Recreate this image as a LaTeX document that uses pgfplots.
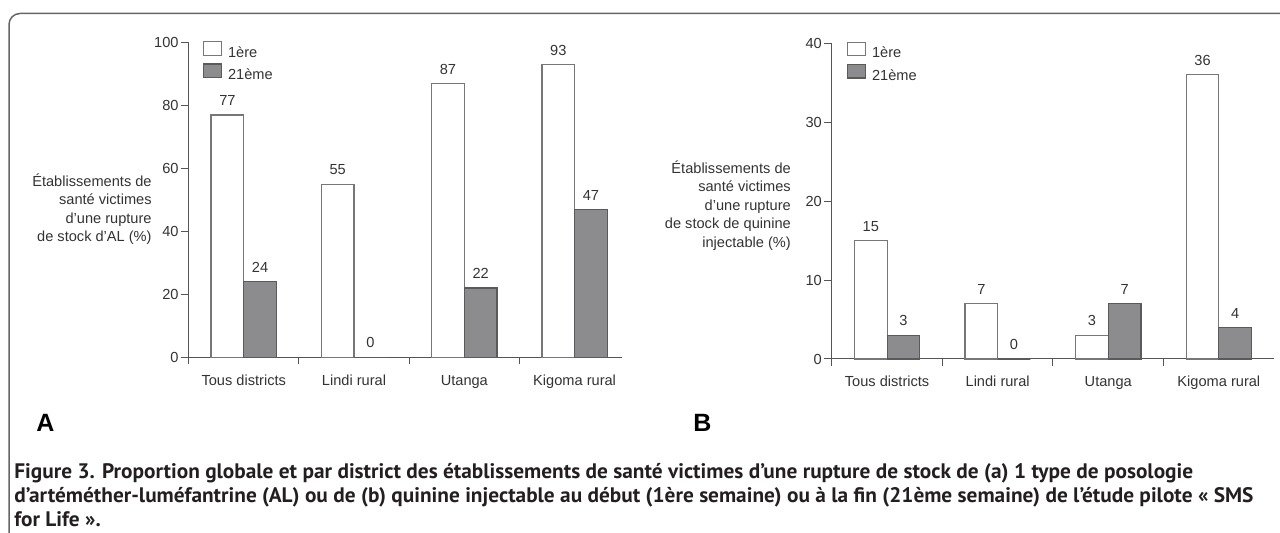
\documentclass[border=0pt]{standalone}
\usepackage{fontspec}
\setmainfont{Liberation Sans}
\newfontfamily\capfont{PT Sans}[FakeStretch=1.015]
\usepackage{pgfplots}
\pgfplotsset{compat=1.18}
\definecolor{barg}{HTML}{8C8C8E}
\definecolor{bare}{HTML}{5A5A5A}
\definecolor{barw}{HTML}{777777}
\definecolor{axc}{HTML}{555555}
\definecolor{txt}{HTML}{333333}
\definecolor{frm}{HTML}{666666}
\definecolor{cap}{HTML}{231F20}

\pgfplotsset{
  mybars/.style={
    scale only axis,
    anchor=south west,
    ybar=0pt,
    bar width=16.35pt,
    ymin=0,
    xmin=-0.5,
    axis x line=bottom,
    axis y line=left,
    axis line style={axc, line width=0.5pt, -},
    every tick/.style={axc, line width=0.5pt},
    xtick={0,1,2,3},
    xticklabels={Tous districts, Lindi rural, Utanga, Kigoma rural},
    x tick style={draw=none},
    extra x ticks={-0.5,0.5,1.5,2.5},
    extra x tick labels={},
    extra x tick style={major tick length=3.5pt, tick align=outside, x tick style={draw=axc}},
    ytick align=outside,
    major tick length=4pt,
    font=\fontsize{7.3}{9.25}\selectfont\color{txt},
    /pgf/number format/assume math mode=true,
    yticklabel style={inner sep=0.8pt, font=\fontsize{7.3}{9.25}\selectfont\color{txt}},
    xticklabel style={inner sep=0pt, text height=5.3pt, text depth=1.5pt, yshift=-6.5pt, font=\fontsize{7.3}{9.25}\selectfont\color{txt}},
    nodes near coords,
    every node near coord/.append style={font=\fontsize{7.3}{9.25}\selectfont\color{txt}, yshift=1pt},
    every axis y label/.style={anchor=east, align=right, inner sep=0pt, font=\fontsize{7.3}{9.25}\selectfont\color{txt}},
    legend cell align=left,
    legend style={anchor=north west, draw=none, fill=none, inner sep=0pt, outer sep=0pt, row sep=0pt, column sep=1.5pt,
      nodes={inner sep=1.5pt, text height=5.5pt, text depth=1.5pt, font=\fontsize{7.3}{9.25}\selectfont\color{txt}}},
    legend image code/.code={\draw[##1, line width=0.6pt] (0pt,-0.9pt) rectangle (9pt,5.8pt);},
    clip=false,
  },
}

\begin{document}
\begin{tikzpicture}
\useasboundingbox (0,0) rectangle (640pt,266.5pt);
% frame
\draw[frm, line width=0.75pt] (4.5pt,-5pt) -- (4.5pt,254.25pt) arc[start angle=180, end angle=90, radius=5.5pt] -- (650pt,259.75pt);

% Panel A
\begin{axis}[mybars,
  at={(94.3pt,87.85pt)},
  width=216.5pt, height=157.3pt,
  xmax=3.426, ymax=100,
  ytick={0,20,40,60,80,100},
  ylabel={Établissements de\\santé victimes\\d'une rupture\\de stock d'AL (\%)},
  every axis y label/.append style={at={(axis description cs:-0.0845,0.47)}},
  legend style={at={(axis description cs:0.033,1.005)}},
]
\addplot[fill=white, draw=barw, line width=0.6pt] coordinates {(0,77) (1,55) (2,87) (3,93)};
\addplot[fill=barg, draw=bare, line width=0.6pt] coordinates {(0,24) (1,0) (2,22) (3,47)};
\legend{1ère, 21ème}
\end{axis}

% Panel B
\begin{axis}[mybars,
  at={(415.9pt,87pt)},
  width=220.85pt, height=157.85pt,
  xmax=3.494, ymax=40,
  ytick={0,10,20,30,40},
  ylabel={Établissements de\\santé victimes\\d'une rupture\\de stock de quinine\\injectable (\%)},
  every axis y label/.append style={at={(axis description cs:-0.092,0.486)}},
  legend style={at={(axis description cs:0.034,1.005)}},
]
\addplot[fill=white, draw=barw, line width=0.6pt] coordinates {(0,15) (1,7) (2,3) (3,36)};
\addplot[fill=barg, draw=bare, line width=0.6pt] coordinates {(0,3) (1,0) (2,7) (3,4)};
\legend{1ère, 21ème}
\end{axis}

% panel letters
\node[anchor=base west, inner sep=0pt, font=\fontsize{12.5}{14}\selectfont\bfseries] at (18pt,50.5pt) {A};
\node[anchor=base west, inner sep=0pt, font=\fontsize{12.5}{14}\selectfont\bfseries] at (346.5pt,50.5pt) {B};

% caption
\begin{scope}[every node/.style={anchor=base west, inner sep=0pt, text=cap, font=\capfont\fontsize{10.5}{12}\selectfont\bfseries}]
\node at (7pt,27pt) {Figure 3. Proportion globale et par district des établissements de santé victimes d’une rupture de stock de (a) 1 type de posologie};
\node at (7pt,15pt) {d’artéméther-luméfantrine (AL) ou de (b) quinine injectable au début (1ère semaine) ou à la fin (21ème semaine) de l’étude pilote «~SMS};
\node at (7pt,3pt) {for Life~».};
\end{scope}
\end{tikzpicture}
\end{document}
